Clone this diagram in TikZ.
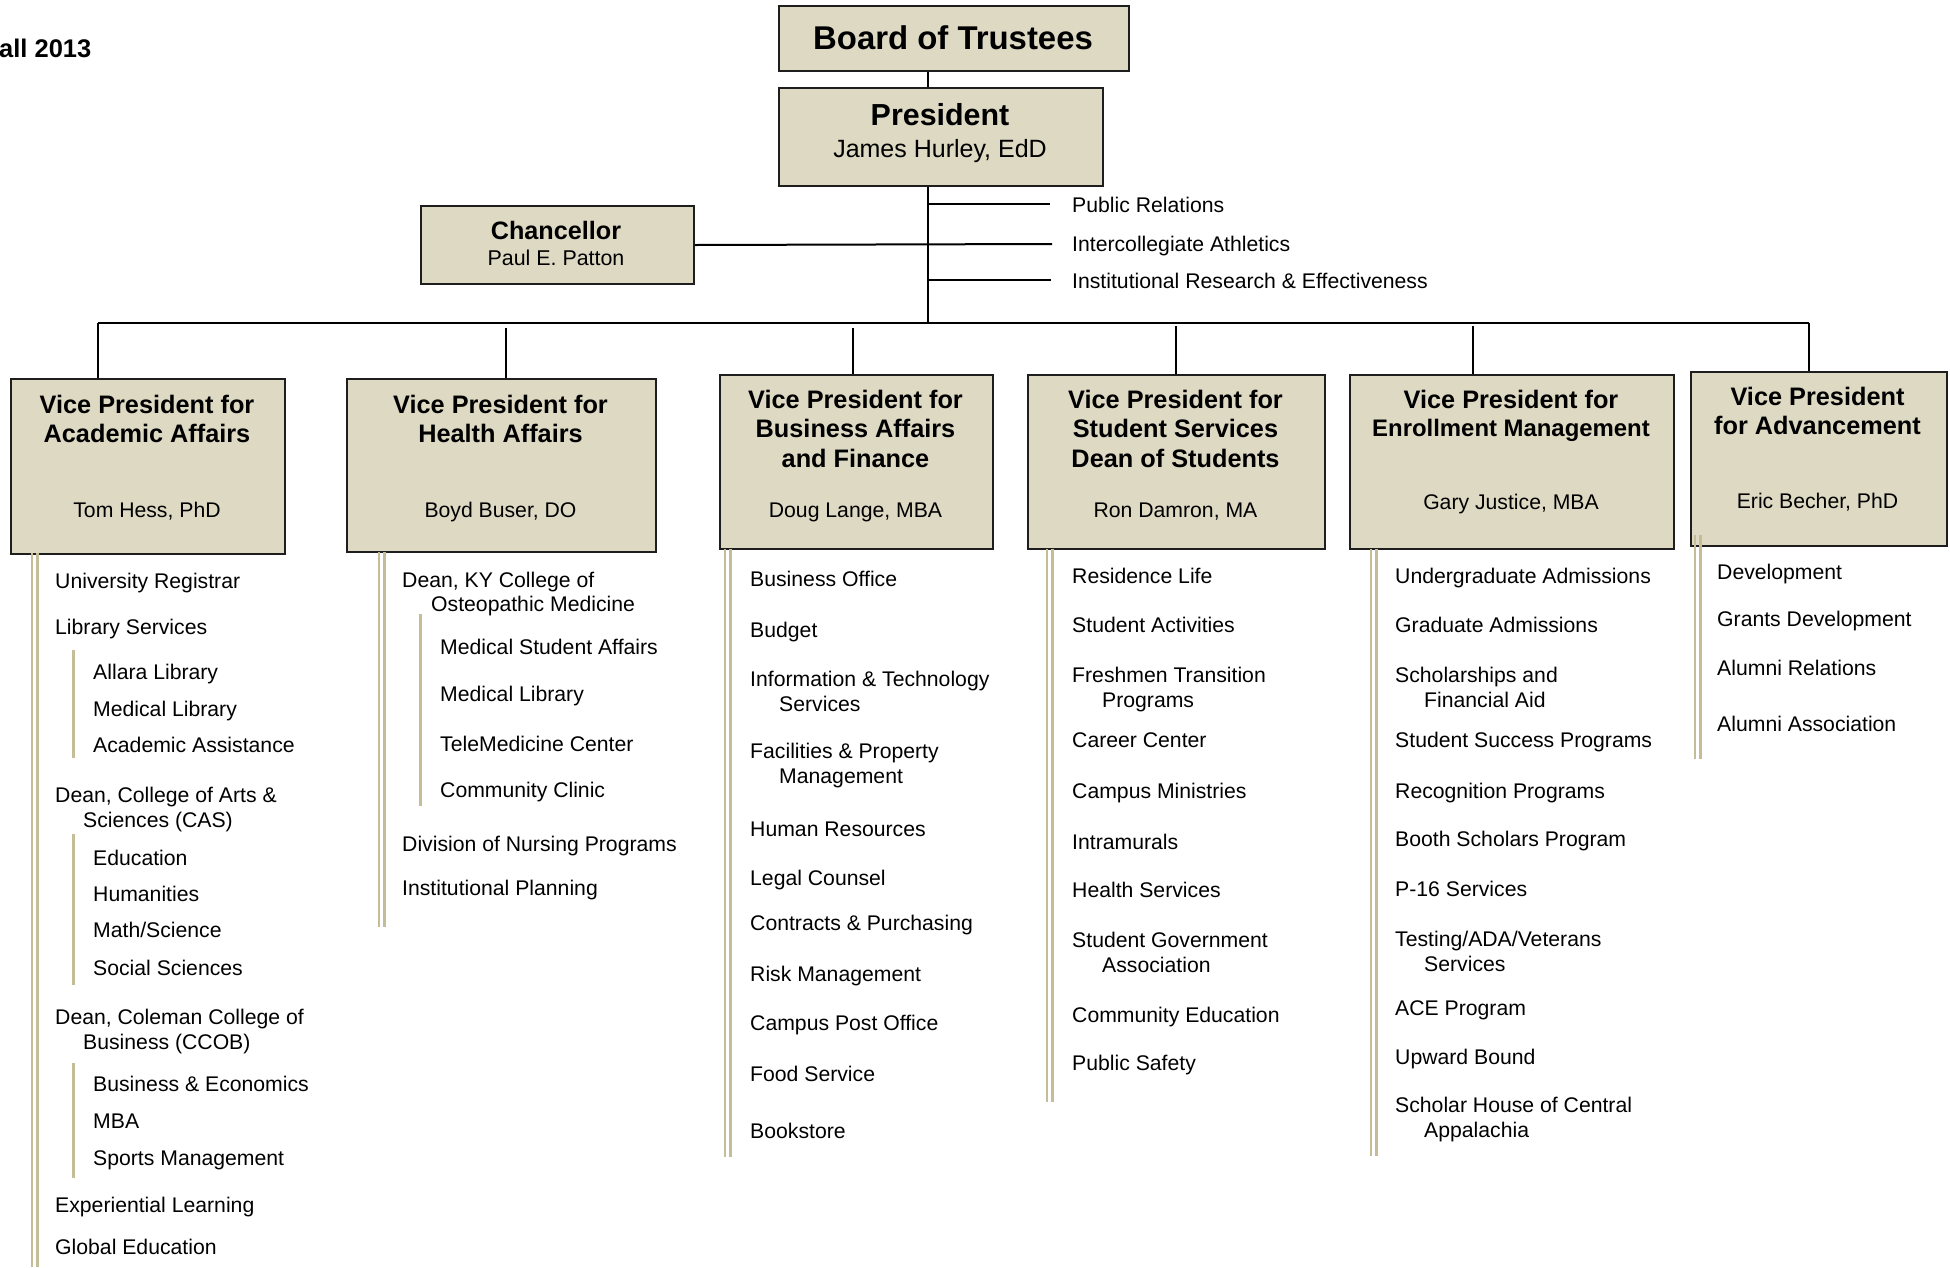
\documentclass[tikz,border=0pt]{standalone}
\usepackage{fontspec}
\setmainfont{Liberation Sans}
\definecolor{boxfill}{HTML}{DDD9C3}
\definecolor{barcol}{HTML}{C4BD97}
\definecolor{edge}{HTML}{1E1E1E}
\begin{document}
\begin{tikzpicture}[x=1pt,y=-1pt,
  box/.style={draw=edge, line width=2pt, fill=boxfill, inner sep=0pt, anchor=north west},
  txt/.style={inner sep=0pt, anchor=base west, font=\fontsize{21.2}{24.5}\selectfont},
  ctr/.style={inner sep=0pt, anchor=base},
  ttl/.style={ctr, font=\bfseries\fontsize{25.3}{29}\selectfont},
  nm/.style={ctr, font=\fontsize{21.2}{24.5}\selectfont},
  conn/.style={line width=2pt, draw=black},
  dbar/.style={draw=barcol, line width=2.6pt},
  sbar/.style={draw=barcol, line width=3pt}]
\useasboundingbox (0,0) rectangle (1950,1267);

% ---------- title
\node[inner sep=0pt, anchor=base west, font=\bfseries\fontsize{25.5}{30}\selectfont] (fall) at (-1,57) {all 2013};

% ---------- boxes
\node[box, minimum width=350pt, minimum height=65pt] (board) at (778,5) {};
\node[box, minimum width=324pt, minimum height=98pt] (pres) at (778,87) {};
\node[box, minimum width=273pt, minimum height=78pt] (chanc) at (420,205) {};
\node[box, minimum width=274pt, minimum height=175pt] (vp1) at (10,378) {};
\node[box, minimum width=309pt, minimum height=173pt] (vp2) at (346,378) {};
\node[box, minimum width=273pt, minimum height=174pt] (vp3) at (719,374) {};
\node[box, minimum width=297pt, minimum height=174pt] (vp4) at (1027,374) {};
\node[box, minimum width=324pt, minimum height=174pt] (vp5) at (1349,374) {};
\node[box, minimum width=256pt, minimum height=174pt] (vp6) at (1690,371) {};

% ---------- box texts
\node[ctr, font=\bfseries\fontsize{32.9}{38}\selectfont] (boardT) at (953,49) {Board of Trustees};
\node[ctr, font=\bfseries\fontsize{30.4}{35}\selectfont] (presT) at (940,125) {President};
\node[ctr, font=\fontsize{25}{29}\selectfont] (presN) at (940,157) {James Hurley, EdD};
\node[ctr, font=\bfseries\fontsize{25.2}{29}\selectfont] (chancT) at (556,239) {Chancellor};
\node[ctr, font=\fontsize{21.4}{25}\selectfont] (chancN) at (556,265) {Paul E. Patton};

\node[ttl] (vp1a) at (147,413) {Vice President for};
\node[ttl] (vp1b) at (147,442) {Academic Affairs};
\node[nm]  (vp1n) at (147,517) {Tom Hess, PhD};

\node[ttl] (vp2a) at (500.5,413) {Vice President for};
\node[ttl] (vp2b) at (500.5,442) {Health Affairs};
\node[nm]  (vp2n) at (500.5,517) {Boyd Buser, DO};

\node[ttl] (vp3a) at (855.5,408) {Vice President for};
\node[ttl] (vp3b) at (855.5,437.5) {Business Affairs};
\node[ttl] (vp3c) at (855.5,467) {and Finance};
\node[nm]  (vp3n) at (855.5,517) {Doug Lange, MBA};

\node[ttl] (vp4a) at (1175.5,408) {Vice President for};
\node[ttl] (vp4b) at (1175.5,437.5) {Student Services};
\node[ttl] (vp4c) at (1175.5,467) {Dean of Students};
\node[nm]  (vp4n) at (1175.5,517) {Ron Damron, MA};

\node[ttl] (vp5a) at (1511,408) {Vice President for};
\node[ttl, font=\bfseries\fontsize{23.9}{29}\selectfont] (vp5b) at (1511,436) {Enrollment Management};
\node[nm]  (vp5n) at (1511,509) {Gary Justice, MBA};

\node[ttl] (vp6a) at (1817.5,405) {Vice President};
\node[ttl] (vp6b) at (1817.5,434) {for Advancement};
\node[nm]  (vp6n) at (1817.5,508) {Eric Becher, PhD};

% ---------- staff units
\node[txt] (pr) at (1072,212) {Public Relations};
\node[txt] (ia) at (1072,251) {Intercollegiate Athletics};
\node[txt] (ir) at (1072,288) {Institutional Research \& Effectiveness};

% ---------- connectors
\coordinate (tr) at (928,0);
\coordinate (busL) at (98,323);
\coordinate (busR) at (1809,323);
\coordinate (prE) at (1050,204);
\coordinate (iaE) at (1052,244);
\coordinate (irE) at (1051,280);
\coordinate (d2) at (506,328);
\coordinate (d3) at (853,328);
\coordinate (d4) at (1176,326);
\coordinate (d5) at (1473,326);

\draw[conn] (board.south -| tr) -- (pres.north -| tr);
\draw[conn] (pres.south -| tr) -- (tr |- busL);
\draw[conn] (busL) -- (busR);
\draw[conn] (busL) -- (busL |- vp1.north);
\draw[conn] (busR) -- (busR |- vp6.north);
\draw[conn] (d2) -- (d2 |- vp2.north);
\draw[conn] (d3) -- (d3 |- vp3.north);
\draw[conn] (d4) -- (d4 |- vp4.north);
\draw[conn] (d5) -- (d5 |- vp5.north);
\draw[conn] (tr |- prE) -- (prE);
\draw[conn] (chanc.east) -- (iaE);
\draw[conn] (tr |- irE) -- (irE);

% ---------- bars
\draw[dbar] (32,553) -- (32,1267);  \draw[dbar] (37.5,553) -- (37.5,1267);
\draw[sbar] (73,650) -- (73,758);
\draw[sbar] (73,834) -- (73,985);
\draw[sbar] (73,1063) -- (73,1178);

\draw[dbar] (379,552) -- (379,927);  \draw[dbar] (384.5,552) -- (384.5,927);
\draw[sbar] (420,614) -- (420,806);

\draw[dbar] (725,549) -- (725,1157);  \draw[dbar] (730.5,549) -- (730.5,1157);
\draw[dbar] (1047,549) -- (1047,1102);  \draw[dbar] (1052.5,549) -- (1052.5,1102);
\draw[dbar] (1371,549) -- (1371,1156);  \draw[dbar] (1376.5,549) -- (1376.5,1156);
\draw[dbar] (1695,535) -- (1695,759);  \draw[dbar] (1700.5,535) -- (1700.5,759);

% ---------- VP1 list
\node[txt] (a1) at (55,588) {University Registrar};
\node[txt] (a2) at (55,634) {Library Services};
\node[txt] (a3) at (93,679) {Allara Library};
\node[txt] (a4) at (93,716) {Medical Library};
\node[txt] (a5) at (93,752) {Academic Assistance};
\node[txt] (a6) at (55,802) {Dean, College of Arts \&};
\node[txt] (a6b) at (83,827) {Sciences (CAS)};
\node[txt] (a7) at (93,865) {Education};
\node[txt] (a8) at (93,901) {Humanities};
\node[txt] (a9) at (93,937) {Math/Science};
\node[txt] (a10) at (93,975) {Social Sciences};
\node[txt] (a11) at (55,1024) {Dean, Coleman College of};
\node[txt] (a11b) at (83,1049) {Business (CCOB)};
\node[txt] (a12) at (93,1091) {Business \& Economics};
\node[txt] (a13) at (93,1128) {MBA};
\node[txt] (a14) at (93,1165) {Sports Management};
\node[txt] (a15) at (55,1212) {Experiential Learning};
\node[txt] (a16) at (55,1254) {Global Education};

% ---------- VP2 list
\node[txt] (h1) at (402,587) {Dean, KY College of};
\node[txt] (h1b) at (431,611) {Osteopathic Medicine};
\node[txt] (h2) at (440,654) {Medical Student Affairs};
\node[txt] (h3) at (440,701) {Medical Library};
\node[txt] (h4) at (440,751) {TeleMedicine Center};
\node[txt] (h5) at (440,797) {Community Clinic};
\node[txt] (h6) at (402,851) {Division of Nursing Programs};
\node[txt] (h7) at (402,895) {Institutional Planning};

% ---------- VP3 list
\node[txt] (b1) at (750,586) {Business Office};
\node[txt] (b2) at (750,637) {Budget};
\node[txt] (b3) at (750,686) {Information \& Technology};
\node[txt] (b3b) at (779,711) {Services};
\node[txt] (b4) at (750,758) {Facilities \& Property};
\node[txt] (b4b) at (779,783) {Management};
\node[txt] (b5) at (750,836) {Human Resources};
\node[txt] (b6) at (750,885) {Legal Counsel};
\node[txt] (b7) at (750,930) {Contracts \& Purchasing};
\node[txt] (b8) at (750,981) {Risk Management};
\node[txt] (b9) at (750,1030) {Campus Post Office};
\node[txt] (b10) at (750,1081) {Food Service};
\node[txt] (b11) at (750,1138) {Bookstore};

% ---------- VP4 list
\node[txt] (s1) at (1072,583) {Residence Life};
\node[txt] (s2) at (1072,632) {Student Activities};
\node[txt] (s3) at (1072,682) {Freshmen Transition};
\node[txt] (s3b) at (1102,707) {Programs};
\node[txt] (s4) at (1072,747) {Career Center};
\node[txt] (s5) at (1072,798) {Campus Ministries};
\node[txt] (s6) at (1072,849) {Intramurals};
\node[txt] (s7) at (1072,897) {Health Services};
\node[txt] (s8) at (1072,947) {Student Government};
\node[txt] (s8b) at (1102,972) {Association};
\node[txt] (s9) at (1072,1022) {Community Education};
\node[txt] (s10) at (1072,1070) {Public Safety};

% ---------- VP5 list
\node[txt] (e1) at (1395,583) {Undergraduate Admissions};
\node[txt] (e2) at (1395,632) {Graduate Admissions};
\node[txt] (e3) at (1395,682) {Scholarships and};
\node[txt] (e3b) at (1424,707) {Financial Aid};
\node[txt] (e4) at (1395,747) {Student Success Programs};
\node[txt] (e5) at (1395,798) {Recognition Programs};
\node[txt] (e6) at (1395,846) {Booth Scholars Program};
\node[txt] (e7) at (1395,896) {P-16 Services};
\node[txt] (e8) at (1395,946) {Testing/ADA/Veterans};
\node[txt] (e8b) at (1424,971) {Services};
\node[txt] (e9) at (1395,1015) {ACE Program};
\node[txt] (e10) at (1395,1064) {Upward Bound};
\node[txt] (e11) at (1395,1112) {Scholar House of Central};
\node[txt] (e11b) at (1424,1137) {Appalachia};

% ---------- VP6 list
\node[txt] (v1) at (1717,579) {Development};
\node[txt] (v2) at (1717,626) {Grants Development};
\node[txt] (v3) at (1717,675) {Alumni Relations};
\node[txt] (v4) at (1717,731) {Alumni Association};
\end{tikzpicture}
\end{document}
